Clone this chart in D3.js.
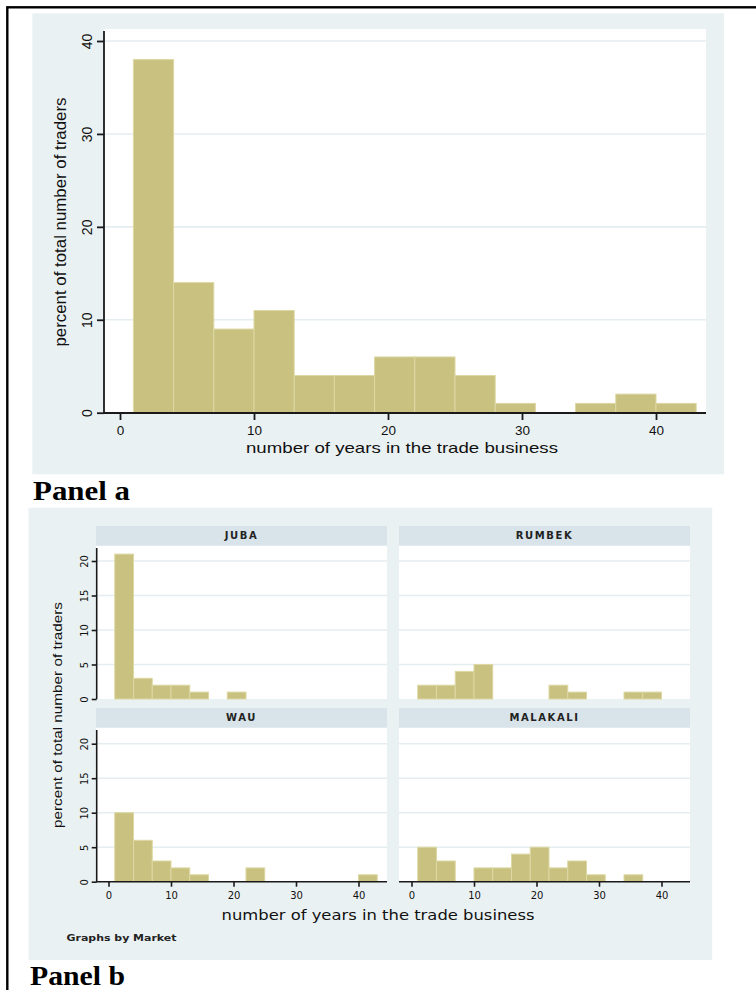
<!DOCTYPE html>
<html>
<head>
<meta charset="utf-8">
<script src="https://cdn.jsdelivr.net/npm/d3@7"></script>
<style>
  html, body { margin: 0; padding: 0; background: #ffffff; }
  svg { display: block; }
</style>
</head>
<body>
<div id="chart"></div>
<script>
// Years in the trade business: histogram bins of width 3 starting at 1 year
const binStart = 1;
const binWidth = 3;

// Panel a: all traders, percent of total per bin
const allTraders = [38, 14, 9, 11, 4, 4, 6, 6, 4, 1, 0, 1, 2, 1];

// Panel b: percent of total number of traders, by market
const markets = ["JUBA", "RUMBEK", "WAU", "MALAKALI"];
const jubaValues    = [21, 3, 2, 2, 1, 0, 1, 0, 0, 0, 0, 0, 0, 0];
const rumbekValues  = [2, 2, 4, 5, 0, 0, 0, 2, 1, 0, 0, 1, 1, 0];
const wauValues     = [10, 6, 3, 2, 1, 0, 0, 2, 0, 0, 0, 0, 0, 1];
const malakalValues = [5, 3, 0, 2, 2, 4, 5, 2, 3, 1, 0, 1, 0, 0];

// Tick labels
const xTicks = [0, 10, 20, 30, 40];
const yTicksA = [0, 10, 20, 30, 40];
const yTicksB = [0, 5, 10, 15, 20];

const xTitle = "number of years in the trade business";
const yTitle = "percent of total number of traders";

const C = {
  region: "#eaf1f3",
  plot: "#ffffff",
  grid: "#e4edf0",
  strip: "#d8e4ea",
  bar: "#c9c17f",
  barEdge: "#ddd7a4",
  axis: "#1a1a1a",
  text: "#111111"
};

const W = 756, H = 990;
const svg = d3.select("#chart").append("svg")
  .attr("width", W).attr("height", H)
  .style("font-family", "'Liberation Sans', Arial, sans-serif");

svg.append("rect").attr("width", W).attr("height", H).attr("fill", "#ffffff");

// page frame
svg.append("rect")
  .attr("x", 7.3).attr("y", 7.3).attr("width", 900).attr("height", 1100)
  .attr("fill", "none").attr("stroke", "#000").attr("stroke-width", 2.4);

function binsOf(values) {
  return values.map((v, i) => ({ x0: binStart + i * binWidth, x1: binStart + (i + 1) * binWidth, v }));
}

function drawBars(g, values, x, y) {
  g.append("g").selectAll("rect")
    .data(binsOf(values).filter(d => d.v > 0))
    .join("rect")
    .attr("x", d => x(d.x0))
    .attr("y", d => y(d.v))
    .attr("width", d => x(d.x1) - x(d.x0))
    .attr("height", d => y(0) - y(d.v))
    .attr("fill", C.bar)
    .attr("stroke", C.barEdge)
    .attr("stroke-width", 1);
}

function styleAxis(g, width) {
  g.select(".domain").attr("stroke", C.axis).attr("stroke-width", width);
  g.selectAll(".tick line").attr("stroke", C.axis).attr("stroke-width", width);
}

// ---------------- Panel a ----------------
const pa = { l: 104, r: 706, t: 29, b: 413 };
const gA = svg.append("g");
gA.append("rect").attr("x", 32.3).attr("y", 13.3).attr("width", 691.7).attr("height", 461)
  .attr("fill", C.region);
gA.append("rect").attr("x", pa.l).attr("y", pa.t).attr("width", pa.r - pa.l).attr("height", pa.b - pa.t)
  .attr("fill", C.plot);

const xA = d3.scaleLinear().domain([0, 40]).range([120, 656]);
const yA = d3.scaleLinear().domain([0, 40]).range([412.7, 41]);

gA.append("g").selectAll("line")
  .data(yTicksA.filter(t => t > 0))
  .join("line")
  .attr("x1", pa.l).attr("x2", pa.r)
  .attr("y1", d => yA(d)).attr("y2", d => yA(d))
  .attr("stroke", C.grid).attr("stroke-width", 1.6);

drawBars(gA, allTraders, xA, yA);

const axAy = gA.append("g").attr("transform", `translate(${pa.l},0)`)
  .call(d3.axisLeft(yA).tickValues(yTicksA).tickSize(7).tickSizeOuter(0));
axAy.select(".domain").attr("d", `M0,${pa.t + 2}V${pa.b}`);
styleAxis(axAy, 1.8);
axAy.selectAll(".tick text")
  .attr("transform", "rotate(-90)")
  .attr("x", 0).attr("y", -12).attr("dy", 0)
  .attr("text-anchor", "middle")
  .attr("fill", C.text)
  .style("font-size", "14px").style("font-family", "'Liberation Sans', Arial, sans-serif");

const axAx = gA.append("g").attr("transform", `translate(0,${pa.b})`)
  .call(d3.axisBottom(xA).tickValues(xTicks).tickSize(7).tickSizeOuter(0));
axAx.select(".domain").attr("d", `M${pa.l},0H${pa.r}`);
styleAxis(axAx, 1.8);
axAx.selectAll(".tick text")
  .attr("y", 12).attr("dy", "0.71em")
  .attr("fill", C.text)
  .style("font-size", "13.5px").style("font-family", "'Liberation Sans', Arial, sans-serif");

gA.append("text")
  .attr("x", 402).attr("y", 453)
  .attr("text-anchor", "middle")
  .attr("textLength", 312).attr("lengthAdjust", "spacingAndGlyphs")
  .attr("fill", C.text).style("font-size", "15px")
  .text(xTitle);

gA.append("text")
  .attr("transform", "translate(66,222) rotate(-90)")
  .attr("text-anchor", "middle")
  .attr("textLength", 249).attr("lengthAdjust", "spacingAndGlyphs")
  .attr("fill", C.text).style("font-size", "16px")
  .text(yTitle);

svg.append("text")
  .attr("x", 33).attr("y", 500)
  .attr("textLength", 97).attr("lengthAdjust", "spacingAndGlyphs")
  .style("font-family", "'Liberation Serif', 'DejaVu Serif', serif")
  .style("font-weight", "bold").style("font-size", "27px")
  .attr("fill", "#000")
  .text("Panel a");

// ---------------- Panel b ----------------
const gB = svg.append("g");
gB.append("rect").attr("x", 28.5).attr("y", 507.7).attr("width", 683.8).attr("height", 452.3)
  .attr("fill", C.region);

const facetValues = [jubaValues, rumbekValues, wauValues, malakalValues];
const colX = [96, 399];
const colW = 291;
const stripTop = [526, 708];
const stripH = 19.5;
const plotTop = [546, 728];
const plotBot = [699, 881.7];

markets.forEach((name, i) => {
  const c = i % 2, r = Math.floor(i / 2);
  const x0 = colX[c];
  const g = gB.append("g");

  // strip with market name
  g.append("rect").attr("x", x0).attr("y", stripTop[r]).attr("width", colW).attr("height", stripH)
    .attr("fill", C.strip);
  g.append("text")
    .attr("x", x0 + colW / 2).attr("y", stripTop[r] + stripH / 2 + 3.6)
    .attr("text-anchor", "middle")
    .style("font-family", "'DejaVu Sans', Verdana, sans-serif")
    .style("font-size", "10px").style("font-weight", "bold")
    .style("letter-spacing", "1.6px")
    .attr("fill", "#222")
    .text(name);

  // plot area
  g.append("rect").attr("x", x0).attr("y", plotTop[r]).attr("width", colW).attr("height", plotBot[r] - plotTop[r])
    .attr("fill", C.plot);

  const x = d3.scaleLinear().domain([0, 40]).range([x0 + 12.5, x0 + 262.5]);
  const y = d3.scaleLinear().domain([0, 20]).range([plotBot[r], plotBot[r] - 138]);

  g.append("g").selectAll("line")
    .data(yTicksB.filter(t => t > 0))
    .join("line")
    .attr("x1", x0).attr("x2", x0 + colW)
    .attr("y1", d => y(d)).attr("y2", d => y(d))
    .attr("stroke", C.grid).attr("stroke-width", 1.4);

  drawBars(g, facetValues[i], x, y);

  if (c === 0) {
    const ay = g.append("g").attr("transform", `translate(${x0 + 0.7},0)`)
      .call(d3.axisLeft(y).tickValues(yTicksB).tickSize(5).tickSizeOuter(0));
    ay.select(".domain").attr("d", `M0,${plotTop[r] + 2}V${plotBot[r]}`);
    styleAxis(ay, 1.6);
    ay.selectAll(".tick text")
      .attr("transform", "rotate(-90)")
      .attr("x", 0).attr("y", -9).attr("dy", 0)
      .attr("text-anchor", "middle")
      .attr("fill", C.text)
      .style("font-size", "10px").style("font-family", "'DejaVu Sans', Verdana, sans-serif");
  }
  if (r === 1) {
    const ax = g.append("g").attr("transform", `translate(0,${plotBot[r]})`)
      .call(d3.axisBottom(x).tickValues(xTicks).tickSize(5).tickSizeOuter(0));
    ax.select(".domain").attr("d", `M${x0},0H${x0 + colW}`);
    styleAxis(ax, 1.6);
    ax.selectAll(".tick text")
      .attr("y", 10).attr("dy", "0.71em")
      .attr("fill", C.text)
      .style("font-size", "10px").style("font-family", "'DejaVu Sans', Verdana, sans-serif");
  }
});

gB.append("text")
  .attr("x", 378).attr("y", 920)
  .attr("text-anchor", "middle")
  .attr("textLength", 313).attr("lengthAdjust", "spacingAndGlyphs")
  .style("font-family", "'DejaVu Sans', Verdana, sans-serif")
  .style("font-size", "14px")
  .attr("fill", C.text)
  .text(xTitle);

gB.append("text")
  .attr("transform", "translate(62,715) rotate(-90)")
  .attr("text-anchor", "middle")
  .attr("textLength", 226).attr("lengthAdjust", "spacingAndGlyphs")
  .style("font-size", "13.5px")
  .attr("fill", C.text)
  .text(yTitle);

gB.append("text")
  .attr("x", 66.5).attr("y", 941)
  .attr("textLength", 110).attr("lengthAdjust", "spacingAndGlyphs")
  .style("font-family", "'DejaVu Sans', Verdana, sans-serif")
  .style("font-size", "9px").style("font-weight", "bold")
  .attr("fill", "#222")
  .text("Graphs by Market");

svg.append("text")
  .attr("x", 30).attr("y", 985)
  .attr("textLength", 95).attr("lengthAdjust", "spacingAndGlyphs")
  .style("font-family", "'Liberation Serif', 'DejaVu Serif', serif")
  .style("font-weight", "bold").style("font-size", "27px")
  .attr("fill", "#000")
  .text("Panel b");
</script>
</body>
</html>
